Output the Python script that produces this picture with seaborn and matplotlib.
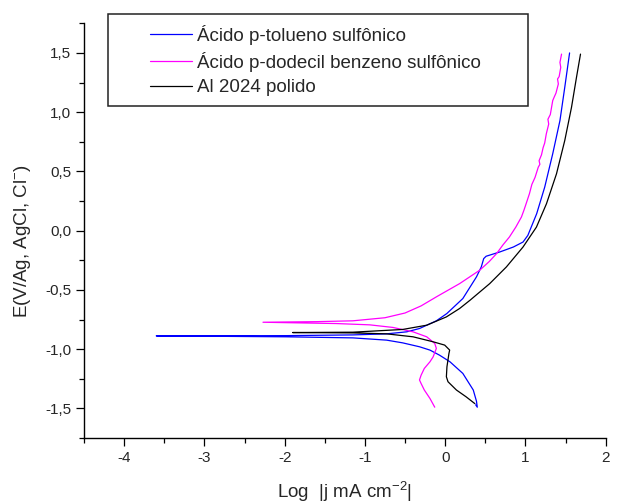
import seaborn as sns
import matplotlib.pyplot as plt
from matplotlib.patches import Rectangle
from matplotlib.ticker import MultipleLocator, FuncFormatter

sns.set_style('ticks')
plt.rcParams['font.family'] = ['Liberation Sans', 'DejaVu Sans']
plt.rcParams['mathtext.fontset'] = 'custom'
plt.rcParams['mathtext.rm'] = 'Liberation Sans'
plt.rcParams['mathtext.it'] = 'Liberation Sans'

# curvas de Tafel (log|j| , E) na ordem da varredura
tolueno_logj = [0.38, 0.40, 0.39, 0.35, 0.22, 0.06, -0.07, -0.19, -0.32, -0.53, -0.73, -1.15, -1.98, -3.60,
                -1.98, -1.15, -0.73, -0.48, -0.32, -0.11, 0.02, 0.22, 0.39, 0.45, 0.48, 0.51, 0.68, 0.85,
                0.97, 1.03, 1.14, 1.24, 1.34, 1.43, 1.49, 1.55]
tolueno_E = [-1.47, -1.49, -1.44, -1.345, -1.205, -1.107, -1.051, -1.008, -0.98, -0.947, -0.924, -0.905,
             -0.896, -0.888, -0.886, -0.880, -0.871, -0.854, -0.826, -0.761, -0.700, -0.573, -0.390, -0.306,
             -0.236, -0.216, -0.180, -0.138, -0.096, -0.040, 0.143, 0.367, 0.649, 0.929, 1.21, 1.50]

dodecil_logj = [-0.13, -0.19, -0.26, -0.30, -0.32, -0.30, -0.26, -0.19, -0.15, -0.11, -0.13, -0.23, -0.40,
                -0.65, -0.94, -1.36, -2.27, -1.60, -1.15, -0.75, -0.50, -0.30, -0.10, 0.18, 0.43, 0.55, 0.64,
                0.72, 0.80, 0.88, 0.95, 0.98, 1.00, 1.05, 1.08, 1.12, 1.16, 1.18, 1.17, 1.20, 1.22, 1.24,
                1.26, 1.29, 1.28, 1.31, 1.34, 1.36, 1.38, 1.41, 1.40, 1.42, 1.44, 1.43, 1.45]
dodecil_E = [-1.49, -1.416, -1.345, -1.29, -1.26, -1.22, -1.163, -1.107, -1.065, -0.994, -0.952, -0.896,
             -0.854, -0.817, -0.795, -0.784, -0.773, -0.768, -0.761, -0.735, -0.695, -0.635, -0.555, -0.447,
             -0.334, -0.26, -0.194, -0.12, -0.054, 0.03, 0.115, 0.17, 0.21, 0.312, 0.39, 0.45, 0.536, 0.56,
             0.59, 0.64, 0.70, 0.74, 0.817, 0.90, 0.94, 0.98, 1.098, 1.13, 1.16, 1.238, 1.28, 1.30, 1.378,
             1.42, 1.49]

al_logj = [0.37, 0.26, 0.14, 0.035, 0.015, 0.022, 0.047, 0.056, -0.006, -0.15, -0.40, -0.73, -1.15, -1.90,
           -1.15, -0.53, -0.23, 0.015, 0.18, 0.31, 0.555, 0.763, 0.97, 1.137, 1.262, 1.387, 1.49, 1.574,
           1.636, 1.686]
al_E = [-1.46, -1.402, -1.345, -1.275, -1.233, -1.149, -1.036, -1.008, -0.966, -0.938, -0.896, -0.871, -0.863,
        -0.860, -0.857, -0.834, -0.798, -0.728, -0.657, -0.587, -0.447, -0.306, -0.138, 0.03, 0.227, 0.48,
        0.761, 1.041, 1.294, 1.49]

labels = ['Ácido p-tolueno sulfônico', 'Ácido p-dodecil benzeno sulfônico', 'Al 2024 polido']
colors = ['#0000ff', '#ff00ff', '#000000']

W, H = 617, 504
fig = plt.figure(figsize=(W / 100, H / 100), dpi=100)
ax = fig.add_axes([84 / W, 1 - 438 / H, (605.7 - 84) / W, (438 - 23.3) / H])

series = [(tolueno_logj, tolueno_E), (dodecil_logj, dodecil_E), (al_logj, al_E)]
for (x, y), lab, c in zip(series, labels, colors):
    sns.lineplot(x=x, y=y, sort=False, estimator=None, color=c, lw=0.9, label=lab, ax=ax)

ax.set_xlim(-4.5, 2)
ax.set_ylim(-1.75, 1.75)
ax.xaxis.set_major_locator(MultipleLocator(1))
ax.xaxis.set_minor_locator(MultipleLocator(0.5))
ax.yaxis.set_major_locator(MultipleLocator(0.5))
ax.yaxis.set_minor_locator(MultipleLocator(0.25))
ax.xaxis.set_major_formatter(FuncFormatter(lambda v, p: '%d' % round(v)))
ax.yaxis.set_major_formatter(FuncFormatter(lambda v, p: ('%.1f' % v).replace('.', ',')))
ax.tick_params(which='major', length=5.5, width=0.9, labelsize=11, direction='out', color='black')
ax.tick_params(which='minor', length=3.5, width=0.9, direction='out', color='black')
sns.despine(ax=ax)
for s in ['left', 'bottom']:
    ax.spines[s].set_linewidth(1.0)
    ax.spines[s].set_color('black')

ax.set_xlabel('Log  |j mA cm$^{-2}$|', fontsize=13.5)
ax.set_ylabel('E(V/Ag, AgCl, Cl$^{-}$)', fontsize=13.5)
ax.xaxis.set_label_coords(0.5, -0.102)
ax.yaxis.set_label_coords(-0.098, 0.475)

ax.legend(loc='upper left', bbox_to_anchor=(0.1093, 1.019), frameon=False, borderpad=0,
          handlelength=2.2, handletextpad=0.3, labelspacing=0.38, fontsize=13.5)
ax.add_patch(Rectangle((0.046, 0.8006), 0.805, 0.2218, transform=ax.transAxes, fill=False,
                       edgecolor='#222222', lw=1.1, clip_on=False, zorder=5))

fig.savefig('out.png', dpi=100)
